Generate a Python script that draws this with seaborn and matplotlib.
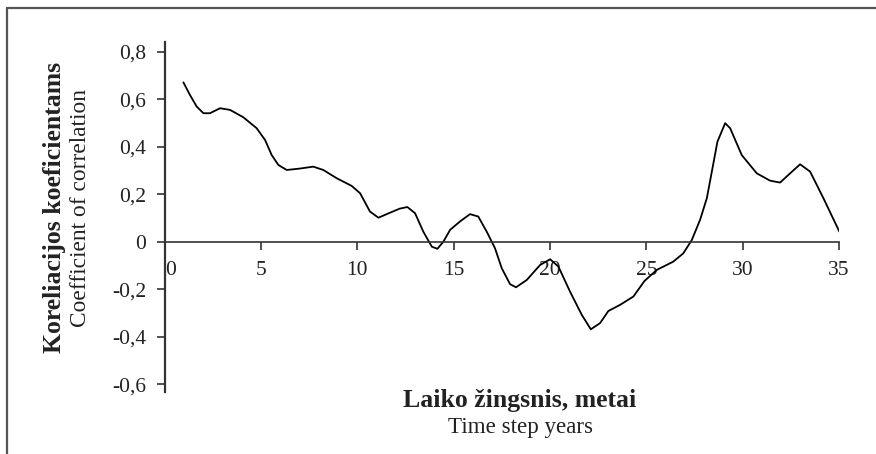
import numpy as np
import pandas as pd
import matplotlib
matplotlib.use("Agg")
import matplotlib.pyplot as plt
import matplotlib.transforms as mtransforms
from matplotlib.lines import Line2D
import seaborn as sns

# points (time step, correlation)
time_step = [0.98, 1.32, 1.67, 2.02, 2.36, 2.88, 3.40, 4.09, 4.78, 5.22, 5.56,
             5.91, 6.34, 7.03, 7.72, 8.24, 8.94, 9.71, 10.15, 10.66, 11.10,
             11.70, 12.20, 12.60, 13.0, 13.43, 13.87, 14.16, 14.47, 14.82, 15.33,
             15.85, 16.28, 16.72, 17.15, 17.50, 17.93, 18.24, 18.80, 19.49,
             20.01, 20.44, 21.04, 21.65, 22.12, 22.60, 23.03, 23.64, 24.33,
             24.90, 25.54, 26.40, 26.92, 27.36, 27.79, 28.14, 28.40, 28.69,
             29.09, 29.35, 29.95, 30.73, 31.42, 31.94, 32.37, 32.98, 33.50,
             34.19, 35.02]
correlation = [0.672, 0.619, 0.570, 0.542, 0.542, 0.563, 0.556, 0.525, 0.479,
               0.429, 0.366, 0.324, 0.303, 0.309, 0.317, 0.303, 0.268, 0.236,
               0.205, 0.128, 0.102, 0.123, 0.140, 0.147, 0.121, 0.043, -0.020,
               -0.029, 0.001, 0.051, 0.086, 0.117, 0.107, 0.043, -0.027, -0.111,
               -0.178, -0.191, -0.160, -0.097, -0.073, -0.104, -0.209, -0.307,
               -0.368, -0.342, -0.291, -0.265, -0.230, -0.165, -0.118, -0.083,
               -0.048, 0.008, 0.093, 0.184, 0.296, 0.422, 0.500, 0.479, 0.366,
               0.289, 0.258, 0.250, 0.282, 0.327, 0.296, 0.184, 0.043]

x_ticks = [0, 5, 10, 15, 20, 25, 30, 35]
y_ticks = [-0.6, -0.4, -0.2, 0, 0.2, 0.4, 0.6, 0.8]
y_tick_labels = ["-0,6", "-0,4", "-0,2", "0", "0,2", "0,4", "0,6", "0,8"]

df = pd.DataFrame({"t": time_step, "r": correlation})

sns.set_style("white")
plt.rcParams["font.family"] = ["Liberation Serif", "DejaVu Serif"]
txt = "#222222"

fig = plt.figure(figsize=(8.76, 4.54), dpi=100)
ax = fig.add_axes([0.1878, 0.1366, 0.9578 - 0.1878, 0.9075 - 0.1366])

sns.lineplot(data=df, x="t", y="r", ax=ax, color="black", linewidth=1.3,
             sort=False, solid_joinstyle="round", solid_capstyle="round")

ax.set_xlim(0, 35)
ax.set_ylim(-0.632, 0.842)
ax.spines["top"].set_visible(False)
ax.spines["right"].set_visible(False)
ax.spines["bottom"].set_position(("data", 0))
ax.spines["bottom"].set_color("#333333")
ax.spines["left"].set_color("#333333")
ax.spines["left"].set_linewidth(1.6)
ax.spines["bottom"].set_linewidth(1.2)

ax.set_xticks(x_ticks)
ax.set_xticklabels([str(v) for v in x_ticks])
ax.set_yticks(y_ticks)
ax.set_yticklabels(y_tick_labels)
ax.tick_params(axis="both", direction="out", length=6, width=1.2, color="#333333",
               labelsize=15.5, labelcolor=txt)
ax.tick_params(axis="x", pad=8, bottom=True)
ax.tick_params(axis="y", pad=7, left=True)

# nudge the "0" label off the y axis
first = ax.get_xticklabels()[0]
first.set_transform(first.get_transform() + mtransforms.ScaledTranslation(6 / 100, 0, fig.dpi_scale_trans))

ax.set_xlabel("")
ax.set_ylabel("")

fig.text(55 / 876, 1 - 207 / 454, "Koreliacijos koeficientams", rotation=90,
         ha="center", va="center", fontsize=18.5, fontweight="bold", color=txt)
fig.text(81 / 876, 1 - 208 / 454, "Coefficient of correlation", rotation=90,
         ha="center", va="center", fontsize=16.8, color=txt)
fig.text(520 / 876, 1 - 400 / 454, "Laiko žingsnis, metai",
         ha="center", va="center", fontsize=18.5, fontweight="bold", color=txt)
fig.text(520 / 876, 1 - 428 / 454, "Time step years",
         ha="center", va="center", fontsize=16.6, color=txt)

# frame lines (top and left only visible)
fig.add_artist(Line2D([7 / 876, 7 / 876], [0, 1 - 8 / 454], transform=fig.transFigure,
                      color="#555555", linewidth=1.6))
fig.add_artist(Line2D([7 / 876, 1], [1 - 8 / 454, 1 - 8 / 454], transform=fig.transFigure,
                      color="#555555", linewidth=1.6))

fig.savefig("out.png", dpi=100)
plt.close(fig)
